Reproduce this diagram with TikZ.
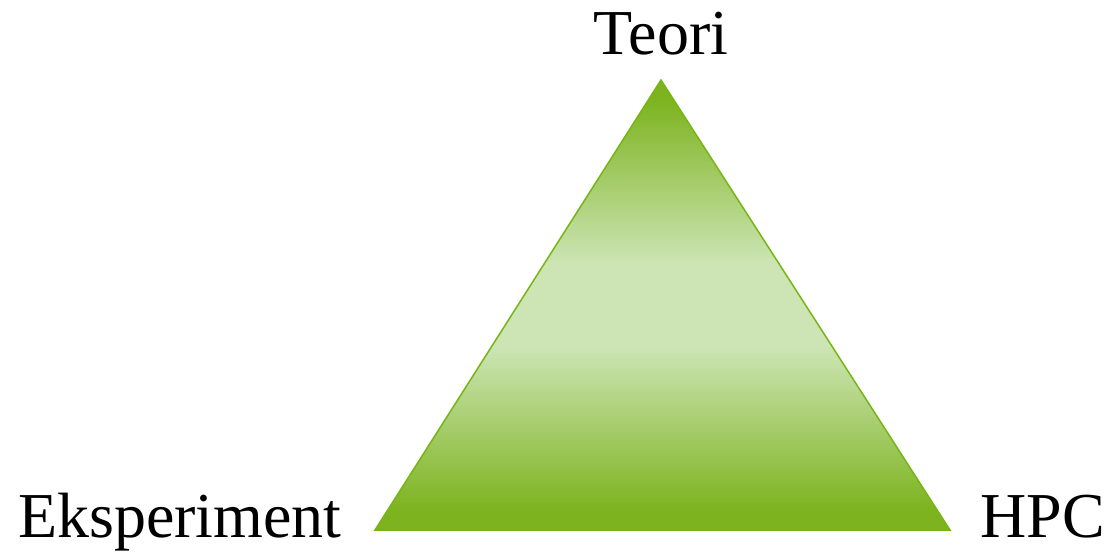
\documentclass[tikz,border=0pt]{standalone}
\usepackage{fontspec}
\setmainfont{Liberation Serif}
\definecolor{gdark}{RGB}{124,179,30}
\definecolor{glight}{RGB}{205,229,181}
\definecolor{gline}{RGB}{118,182,20}
\pgfdeclareverticalshading{triglow}{100bp}{%
  color(0bp)=(gdark); color(25bp)=(gdark); color(27bp)=(gdark);
  color(45.5bp)=(glight); color(54.5bp)=(glight);
  color(73bp)=(gdark); color(75bp)=(gdark); color(100bp)=(gdark)}
\tikzset{lbl/.style={inner sep=0pt, font=\fontsize{64}{70}\selectfont}}
\begin{document}
\begin{tikzpicture}[x=1pt,y=-1pt]
\useasboundingbox (0,0) rectangle (1115,551);
\coordinate (top) at (661,80);
\coordinate (bl) at (375,530);
\coordinate (br) at (950,530);
\shade[shading=triglow] (top) -- (br) -- (bl) -- cycle;
\draw[gline, line width=1.5pt, line join=miter] (top) -- (br) -- (bl) -- cycle;
\node[lbl, anchor=base] (teori) at (661,55) {Teori};
\node[lbl, anchor=base west] (eks) at (18,537) {Eksperiment};
\node[lbl, anchor=base east] (hpc) at (1105,537) {HPC};
\end{tikzpicture}
\end{document}
